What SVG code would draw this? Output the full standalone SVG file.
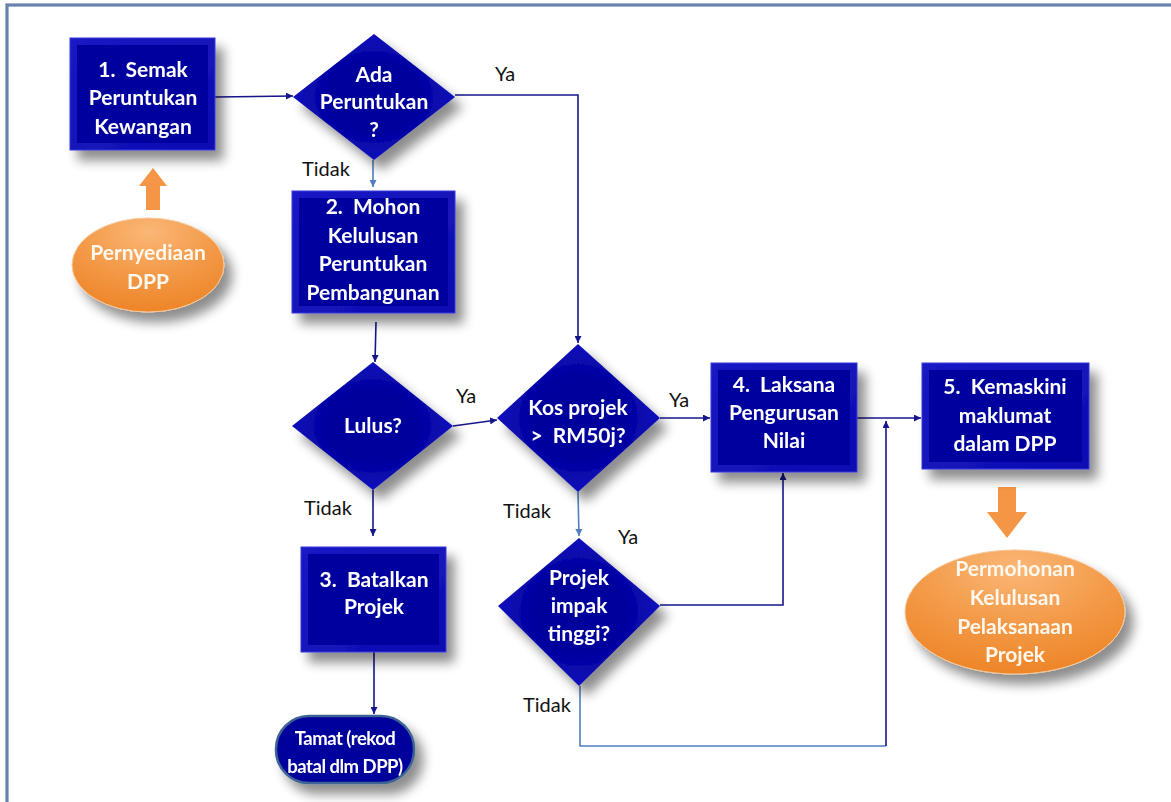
<svg xmlns="http://www.w3.org/2000/svg" width="1171" height="802" viewBox="0 0 1171 802">
<style>
.bt{font-family:Lato,"Liberation Sans",sans-serif;font-weight:700;font-size:21px;fill:#ffffff;text-anchor:middle;white-space:pre}
.tt{font-size:18.5px;letter-spacing:-0.5px}
.ot{font-family:Lato,"Liberation Sans",sans-serif;font-weight:700;font-size:21px;fill:#fff8ee;text-anchor:middle}
.lb{font-family:Lato,"Liberation Sans",sans-serif;font-size:20px;fill:#111111;text-anchor:middle}
.c{fill:none;stroke:#16168c;stroke-width:1.6}
.cl{fill:none;stroke:#4f7fc0;stroke-width:1.6}
.box{fill:url(#bg);stroke:#3a3ad8;stroke-width:1}
.boxin{fill:#05059e}
.dia{fill:url(#dg)}
.orr{fill:url(#og);stroke:#f6c89a;stroke-width:1}
.oa{fill:#f49645}
</style>
<defs>
<filter id="sh" x="-20%" y="-20%" width="150%" height="150%">
<feGaussianBlur in="SourceAlpha" stdDeviation="6"/>
<feOffset dx="8" dy="10" result="b"/>
<feComponentTransfer><feFuncA type="linear" slope="0.45"/></feComponentTransfer>
<feMerge><feMergeNode/><feMergeNode in="SourceGraphic"/></feMerge>
</filter>
<linearGradient id="bg" x1="0" y1="0" x2="1" y2="1">
<stop offset="0" stop-color="#1a1ac4"/><stop offset="1" stop-color="#0d0db2"/>
</linearGradient>
<radialGradient id="dg" cx="0.5" cy="0.5" r="0.6">
<stop offset="0.45" stop-color="#00009c"/><stop offset="1" stop-color="#1717cc"/>
</radialGradient>
<radialGradient id="og" cx="0.5" cy="0.15" r="0.9">
<stop offset="0" stop-color="#fab777"/><stop offset="0.5" stop-color="#f39a48"/><stop offset="1" stop-color="#ed8224"/>
</radialGradient>
<marker id="ad" viewBox="0 0 10 10" refX="10" refY="5" markerWidth="7" markerHeight="7" orient="auto" markerUnits="userSpaceOnUse">
<path d="M0,0 L10,5 L0,10 z" fill="#16168c"/>
</marker>
<marker id="al" viewBox="0 0 10 10" refX="10" refY="5" markerWidth="7" markerHeight="7" orient="auto" markerUnits="userSpaceOnUse">
<path d="M0,0 L10,5 L0,10 z" fill="#4f7fc0"/>
</marker>
</defs>
<rect width="1171" height="802" fill="#ffffff"/>
<rect x="7" y="5" width="1200" height="900" fill="none" stroke="#4a6a9c" stroke-width="3"/>
<rect x="7" y="5" width="1200" height="900" fill="none" stroke="#8fa8cc" stroke-width="0.8"/>

<g id="connectors">
<polyline class="c" points="215,97 293,96" marker-end="url(#ad)"/>
<polyline class="c" points="455,95 578,95 578,343" marker-end="url(#ad)"/>
<polyline class="cl" points="373,160 373,187" marker-end="url(#al)"/>
<polyline class="c" points="376,322 375,362" marker-end="url(#ad)"/>
<polyline class="c" points="453,426 497,420" marker-end="url(#ad)"/>
<polyline class="c" points="373,490 373,536" marker-end="url(#ad)"/>
<polyline class="cl" points="578,492 579,536" marker-end="url(#al)"/>
<polyline class="c" points="374,652 374,714" marker-end="url(#ad)"/>
<polyline class="c" points="660,605 783,605 783,473" marker-end="url(#ad)"/>
<polyline class="cl" points="580,686 580,746 886,746"/>
<polyline class="c" points="886,746 886,421" marker-end="url(#ad)"/>
<polyline class="c" points="660,418 710,418" marker-end="url(#ad)"/>
<polyline class="c" points="857,418 921,418" marker-end="url(#ad)"/>
<polygon class="oa" points="146,210 160,210 160,186 167,186 153,168 139,186 146,186"/>
<polygon class="oa" points="998,487 1016,487 1016,512 1027,512 1007,538 987,512 998,512"/>
</g>

<g id="labels">
<text class="lb" x="505" y="81">Ya</text>
<text class="lb" x="326" y="176">Tidak</text>
<text class="lb" x="466" y="403">Ya</text>
<text class="lb" x="328" y="515">Tidak</text>
<text class="lb" x="527" y="518">Tidak</text>
<text class="lb" x="679" y="407">Ya</text>
<text class="lb" x="628" y="544">Ya</text>
<text class="lb" x="547" y="712">Tidak</text>
</g>

<g id="n1" filter="url(#sh)">
<rect class="box" x="70" y="38" width="145" height="112"/>
<rect class="boxin" x="77" y="45" width="131" height="98"/>
<text class="bt" x="143" y="77">1.  Semak</text>
<text class="bt" x="143" y="105">Peruntukan</text>
<text class="bt" x="143" y="134">Kewangan</text>
</g>

<g id="d1" filter="url(#sh)">
<polygon class="dia" points="374,34 455,97 374,160 293,97"/>
<text class="bt" x="374" y="82">Ada</text>
<text class="bt" x="374" y="109">Peruntukan</text>
<text class="bt" x="374" y="137">?</text>
</g>

<g id="n2" filter="url(#sh)">
<rect class="box" x="292" y="191" width="163" height="122"/>
<rect class="boxin" x="299" y="198" width="149" height="108"/>
<text class="bt" x="373" y="214">2.  Mohon</text>
<text class="bt" x="373" y="243">Kelulusan</text>
<text class="bt" x="373" y="271">Peruntukan</text>
<text class="bt" x="373" y="300">Pembangunan</text>
</g>

<g id="d2" filter="url(#sh)">
<polygon class="dia" points="373,362 453,426 373,490 292,426"/>
<text class="bt" x="373" y="433">Lulus?</text>
</g>

<g id="d3" filter="url(#sh)">
<polygon class="dia" points="578,344 660,418 578,492 497,418"/>
<text class="bt" x="578" y="415">Kos projek</text>
<text class="bt" x="578" y="443">&gt;  RM50j?</text>
</g>

<g id="n3" filter="url(#sh)">
<rect class="box" x="301" y="547" width="145" height="105"/>
<rect class="boxin" x="308" y="554" width="131" height="91"/>
<text class="bt" x="374" y="587">3.  Batalkan</text>
<text class="bt" x="374" y="614">Projek</text>
</g>

<g id="end" filter="url(#sh)">
<rect x="276" y="716" width="138" height="67" rx="33" fill="#00009c" stroke="#3d6494" stroke-width="2.5"/>
<text class="bt tt" x="345" y="745">Tamat (rekod</text>
<text class="bt tt" x="345" y="773">batal dlm DPP)</text>
</g>

<g id="d4" filter="url(#sh)">
<polygon class="dia" points="579,538 660,606 579,686 498,606"/>
<text class="bt" x="579" y="585">Projek</text>
<text class="bt" x="579" y="613">impak</text>
<text class="bt" x="579" y="641">tinggi?</text>
</g>

<g id="n4" filter="url(#sh)">
<rect class="box" x="711" y="363" width="146" height="109"/>
<rect class="boxin" x="718" y="370" width="132" height="95"/>
<text class="bt" x="784" y="392">4.  Laksana</text>
<text class="bt" x="784" y="420">Pengurusan</text>
<text class="bt" x="784" y="448">Nilai</text>
</g>

<g id="n5" filter="url(#sh)">
<rect class="box" x="922" y="363" width="167" height="106"/>
<rect class="boxin" x="929" y="370" width="153" height="92"/>
<text class="bt" x="1005" y="394">5.  Kemaskini</text>
<text class="bt" x="1005" y="423">maklumat</text>
<text class="bt" x="1005" y="451">dalam DPP</text>
</g>

<g id="o1" filter="url(#sh)">
<ellipse class="orr" cx="148" cy="265" rx="76" ry="47"/>
<text class="ot" x="148" y="260">Pernyediaan</text>
<text class="ot" x="148" y="289">DPP</text>
</g>

<g id="o2" filter="url(#sh)">
<ellipse class="orr" cx="1015" cy="612" rx="110" ry="62"/>
<text class="ot" x="1015" y="576">Permohonan</text>
<text class="ot" x="1015" y="605">Kelulusan</text>
<text class="ot" x="1015" y="634">Pelaksanaan</text>
<text class="ot" x="1015" y="662">Projek</text>
</g>
</svg>
